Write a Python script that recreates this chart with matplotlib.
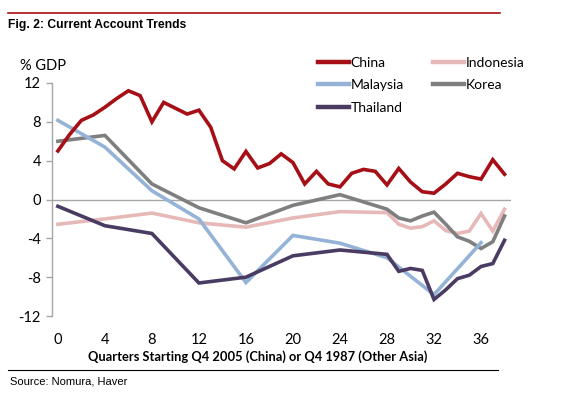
import matplotlib
matplotlib.use("Agg")
import matplotlib.pyplot as plt
from matplotlib.lines import Line2D

# ---------------- data ----------------
china_q = list(range(0, 39))
china = [5.0, 6.7, 8.15, 8.7, 9.5, 10.4, 11.2, 10.7, 8.0, 10.0,
         9.4, 8.8, 9.2, 7.45, 4.0, 3.15, 4.95, 3.25, 3.7, 4.7,
         3.8, 1.6, 2.9, 1.6, 1.3, 2.7, 3.1, 2.9, 1.5, 3.2,
         1.8, 0.8, 0.65, 1.6, 2.7, 2.35, 2.1, 4.1, 2.6]

malaysia_q = [0, 4, 8, 12, 16, 20, 24, 28, 32, 36]
malaysia = [8.15, 5.4, 0.9, -2.0, -8.55, -3.7, -4.5, -6.0, -9.8, -4.45]

other_q = [0, 4, 8, 12, 16, 20, 24, 28, 29, 30, 31, 32, 33, 34, 35, 36, 37, 38]
thailand = [-0.7, -2.7, -3.5, -8.6, -8.0, -5.8, -5.2, -5.65,
            -7.4, -7.1, -7.3, -10.3, -9.3, -8.15, -7.8, -6.9, -6.6, -4.2]
indonesia = [-2.55, -2.0, -1.4, -2.4, -2.85, -1.9, -1.25, -1.35,
             -2.55, -2.95, -2.8, -2.2, -3.2, -3.5, -3.25, -1.45, -3.25, -1.0]
korea = [6.0, 6.6, 1.6, -0.85, -2.4, -0.6, 0.5, -1.0,
         -1.9, -2.2, -1.7, -1.3, -2.55, -3.85, -4.3, -5.05, -4.35, -1.7]

xticks = [0, 4, 8, 12, 16, 20, 24, 28, 32, 36]
yticks = [-12, -8, -4, 0, 4, 8, 12]

title = "Fig. 2: Current Account Trends"
xlabel = "Quarters Starting Q4 2005 (China) or Q4 1987 (Other Asia)"
ylabel = "% GDP"
source = "Source: Nomura, Haver"

colors = {
    "China": "#A50F15",
    "Indonesia": "#E6B9B8",
    "Malaysia": "#95B3D7",
    "Korea": "#7F7F7F",
    "Thailand": "#4A3B63",
}

# ---------------- figure ----------------
W, H = 569, 398
fig = plt.figure(figsize=(W / 100, H / 100), dpi=100)
ax = fig.add_axes([52 / W, 1 - 316 / H, (511 - 52) / W, (316 - 83) / H])

lw = 2.6
ax.axhline(0, color="#A6A6A6", lw=1.0, zorder=1)
ax.plot(other_q, indonesia, color=colors["Indonesia"], lw=lw, zorder=2, solid_joinstyle="miter")
ax.plot(other_q, korea, color=colors["Korea"], lw=lw, zorder=3, solid_joinstyle="miter")
ax.plot(malaysia_q, malaysia, color=colors["Malaysia"], lw=lw, zorder=4, solid_joinstyle="miter")
ax.plot(other_q, thailand, color=colors["Thailand"], lw=lw, zorder=5, solid_joinstyle="miter")
ax.plot(china_q, china, color=colors["China"], lw=lw, zorder=6, solid_joinstyle="miter")

ax.set_xlim(-0.5, 38.55)
ax.set_ylim(-12, 12)
ax.set_xticks(xticks)
ax.set_yticks(yticks)
ax.set_yticklabels([str(v) if v >= 0 else "-" + str(-v) for v in yticks])

for s in ["top", "right", "bottom"]:
    ax.spines[s].set_visible(False)
ax.spines["left"].set_color("#A6A6A6")
ax.spines["left"].set_linewidth(1.0)
ax.tick_params(axis="y", direction="out", length=4, width=1.0, color="#A6A6A6",
               pad=4, labelsize=10.5, labelcolor="black")
ax.tick_params(axis="x", length=0, pad=12, labelsize=10.5, labelcolor="black")
for lab in ax.get_xticklabels() + ax.get_yticklabels():
    lab.set_family("Lato")

fig.text(258 / W, 1 - 357 / H, xlabel, fontfamily="Lato", fontweight="bold",
         fontsize=9.3, ha="center", va="center")

fig.text(20 / W, 1 - 66 / H, ylabel, fontfamily="Lato", fontsize=10.5, va="center", ha="left")

# legend
order = ["China", "Malaysia", "Thailand", "Indonesia", "Korea"]
handles = [Line2D([0], [0], color=colors[n], lw=3.2) for n in order]
leg = fig.legend(handles, order, loc="upper left", bbox_to_anchor=(318 / W, 1 - 57 / H),
                 ncol=2, frameon=False, prop={"family": "Lato", "size": 10},
                 handlelength=2.2, handletextpad=0.15, columnspacing=2.1,
                 labelspacing=0.74, borderaxespad=0, borderpad=0)

# title, rules, source
fig.add_artist(Line2D([8 / W, 500 / W], [1 - 13 / H, 1 - 13 / H], color="#A50F15", lw=1.2))
fig.text(8 / W, 1 - 25 / H, title, fontfamily="Liberation Sans", fontweight="bold",
         fontsize=8.7, va="center", ha="left")
fig.add_artist(Line2D([8 / W, 498 / W], [1 - 370 / H, 1 - 370 / H], color="black", lw=0.8))
fig.text(10 / W, 1 - 382 / H, source, fontfamily="Liberation Sans", fontsize=8.0,
         va="center", ha="left")

fig.savefig("out.png", dpi=100)
